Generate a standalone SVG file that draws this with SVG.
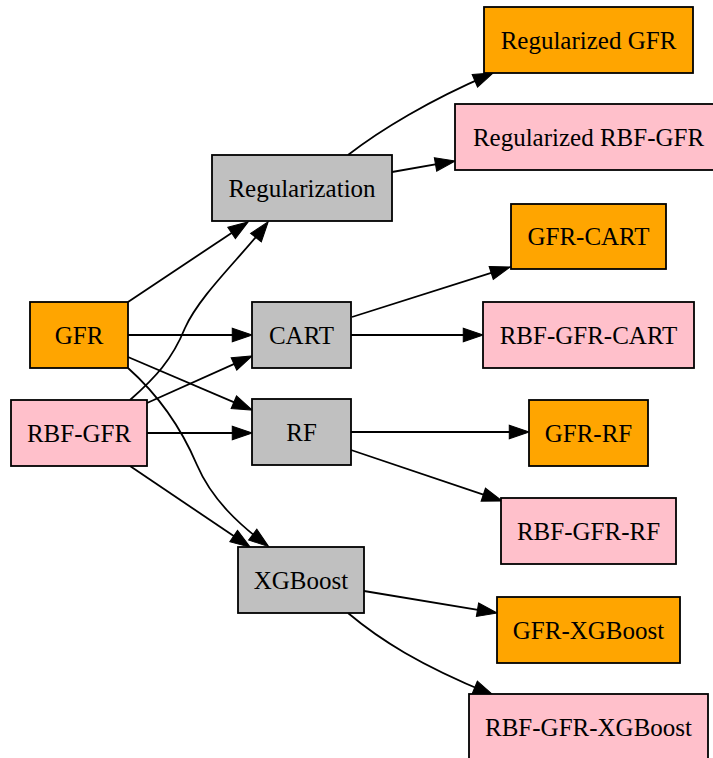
<svg xmlns="http://www.w3.org/2000/svg" width="713" height="758" viewBox="0 0 713 758">
<defs>
<style>
.n rect{stroke:#000;stroke-width:1.8}
.o{fill:#FFA500}.p{fill:#FFC0CB}.g{fill:#C0C0C0}
.n text{font-family:"Liberation Serif","Times New Roman",serif;font-size:25px;fill:#000;text-anchor:middle}
.e path{fill:none;stroke:#000;stroke-width:1.8}
</style>
<marker id="a" markerUnits="userSpaceOnUse" markerWidth="22" markerHeight="16" viewBox="-1 -1 21 15" refX="15" refY="6.5" orient="auto">
<path d="M0,0 L19,6.5 L0,13 Z" fill="#000" stroke="#000" stroke-width="1"/>
</marker>
</defs>
<rect width="713" height="758" fill="#fff"/>
<g class="e" marker-end="url(#a)">
<path d="M128,302 L244.7,224.2" marker-end="url(#a)"/>
<path d="M130,400 C155,378 172,360 185,328 C200,295 240,258 265.6,225.2" marker-end="url(#a)"/>
<path d="M128,335 L248,335" marker-end="url(#a)"/>
<path d="M128,357 L248.3,408.4" marker-end="url(#a)"/>
<path d="M128,368 C155,392 180,425 197,465 C212,500 240,525 265.3,544.1" marker-end="url(#a)"/>
<path d="M147,403 L248.3,357.6" marker-end="url(#a)"/>
<path d="M147,433 L248,433" marker-end="url(#a)"/>
<path d="M130,466 L246.7,544.8" marker-end="url(#a)"/>
<path d="M348,155 C380,130 430,100 489.3,74.6" marker-end="url(#a)"/>
<path d="M392,172 L451,161.7" marker-end="url(#a)"/>
<path d="M352,317 L506.2,268.2" marker-end="url(#a)"/>
<path d="M351,335 L479,335" marker-end="url(#a)"/>
<path d="M351,432 L525,432" marker-end="url(#a)"/>
<path d="M351,450 L498.2,499.7" marker-end="url(#a)"/>
<path d="M364,591 L493,612.3" marker-end="url(#a)"/>
<path d="M348,613 C380,640 420,665 489.3,693.5" marker-end="url(#a)"/>
</g>
<g id="GFR" class="n"><rect class="o" x="30" y="302" width="98" height="66"/><text x="79" y="343.5">GFR</text></g>
<g id="RBF-GFR" class="n"><rect class="p" x="11" y="400" width="136" height="66"/><text x="79" y="441.5">RBF-GFR</text></g>
<g id="Regularization" class="n"><rect class="g" x="212" y="155" width="180" height="66"/><text x="302" y="196.5">Regularization</text></g>
<g id="CART" class="n"><rect class="g" x="252" y="302" width="99" height="66"/><text x="301.5" y="343.5">CART</text></g>
<g id="RF" class="n"><rect class="g" x="252" y="399" width="99" height="66"/><text x="301.5" y="440.5">RF</text></g>
<g id="XGBoost" class="n"><rect class="g" x="238" y="547" width="126" height="66"/><text x="301" y="588.5">XGBoost</text></g>
<g id="RegGFR" class="n"><rect class="o" x="484" y="7" width="209" height="66"/><text x="588.5" y="48.5">Regularized GFR</text></g>
<g id="RegRBFGFR" class="n"><rect class="p" x="455" y="104" width="268" height="66"/><text x="588.5" y="145.5">Regularized RBF-GFR</text></g>
<g id="GFR-CART" class="n"><rect class="o" x="511" y="204" width="155" height="65"/><text x="588.5" y="245">GFR-CART</text></g>
<g id="RBF-GFR-CART" class="n"><rect class="p" x="483" y="302" width="211" height="66"/><text x="588.5" y="343.5">RBF-GFR-CART</text></g>
<g id="GFR-RF" class="n"><rect class="o" x="529" y="400" width="119" height="66"/><text x="588.5" y="441.5">GFR-RF</text></g>
<g id="RBF-GFR-RF" class="n"><rect class="p" x="501" y="498" width="175" height="66"/><text x="588.5" y="539.5">RBF-GFR-RF</text></g>
<g id="GFR-XGBoost" class="n"><rect class="o" x="497" y="597" width="183" height="66"/><text x="588.5" y="638.5">GFR-XGBoost</text></g>
<g id="RBF-GFR-XGBoost" class="n"><rect class="p" x="469" y="694" width="239" height="66"/><text x="588.5" y="735.5">RBF-GFR-XGBoost</text></g>
</svg>
